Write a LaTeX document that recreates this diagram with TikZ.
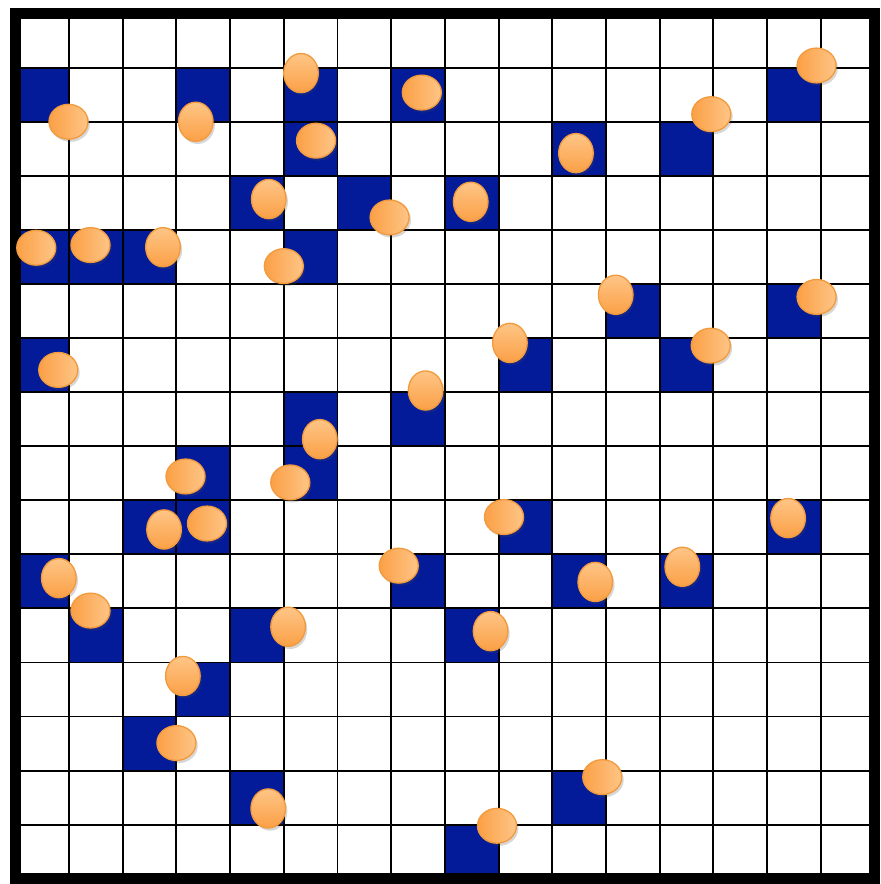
\documentclass[tikz,border=0pt]{standalone}
\usepackage{xcolor}
\usetikzlibrary{shadows}
\definecolor{cellblue}{HTML}{031A99}
\definecolor{beaddark}{HTML}{FBA046}
\definecolor{beadlight}{HTML}{FEC586}
\definecolor{beadedge}{HTML}{F29A3E}
\definecolor{gridblack}{HTML}{000000}
\newcommand{\beadflat}[2]{%
	\shadedraw[bead, left color=beaddark, right color=beadlight] (#1,-#2) ellipse[x radius=0.363, y radius=0.322];
}
\newcommand{\beadtall}[2]{%
	\shadedraw[bead, bottom color=beaddark, top color=beadlight] (#1,-#2) ellipse[x radius=0.322, y radius=0.362];
}

\begin{document}
\begin{tikzpicture}[x=1cm,y=1.00689cm,
	bead/.style={draw=beadedge, line width=0.7pt,
		drop shadow={shadow xshift=0.035, shadow yshift=-0.05, opacity=0.22, fill=black!70}}]
	% Fixed white canvas with the same margins as the board.
	\path[use as bounding box] (-0.285,0.2515) rectangle (16.102,-16.097);
	\fill[white] (-0.285,0.2515) rectangle (16.102,-16.097);

	% Occupied cells, given as column/row counted from the top left.
	\foreach \c/\r in {0/1,3/1,5/1,7/1,14/1,5/2,10/2,12/2,4/3,6/3,8/3,
		0/4,1/4,2/4,5/4,11/5,14/5,0/6,9/6,12/6,5/7,7/7,3/8,5/8,
		2/9,3/9,9/9,14/9,0/10,7/10,10/10,12/10,1/11,4/11,8/11,
		3/12,2/13,4/14,10/14,8/15} {
		\fill[cellblue] (\c,-\r) rectangle ++(1,-1);
	}

	% Thin grid lines and the heavy frame round the board.
	\foreach \i in {1,...,15} {
		\draw[gridblack, line width=1pt] (\i,0) -- (\i,-16);
		\draw[gridblack, line width=1pt] (0,-\i) -- (16,-\i);
	}
	\draw[gridblack, line width=5.8pt] (0,0) rectangle (16,-16);

	% Beads lying on their side.
	\foreach \x/\y in {0.99/2.00,0.39/4.33,1.40/4.28,5.00/4.67,7.57/1.46,
		5.60/2.35,6.97/3.77,14.92/0.96,12.96/1.86,14.92/5.24,12.95/6.14,
		5.12/8.67,9.10/9.31,7.14/10.21,0.80/6.59,3.17/8.56,3.57/9.43,
		1.40/11.04,3.00/13.49,8.97/15.02,10.93/14.12} {\beadflat{\x}{\y}}

	% Beads standing upright.
	\foreach \x/\y in {3.36/2.00,4.72/3.43,2.75/4.32,5.32/1.10,10.44/2.58,
		8.48/3.48,11.18/5.20,14.39/9.33,12.42/10.23,10.80/10.51,9.21/6.09,
		7.64/6.97,5.67/7.87,2.77/9.54,0.81/10.44,5.08/11.34,3.12/12.25,
		4.71/14.70,8.85/11.42} {\beadtall{\x}{\y}}
\end{tikzpicture}
\end{document}
